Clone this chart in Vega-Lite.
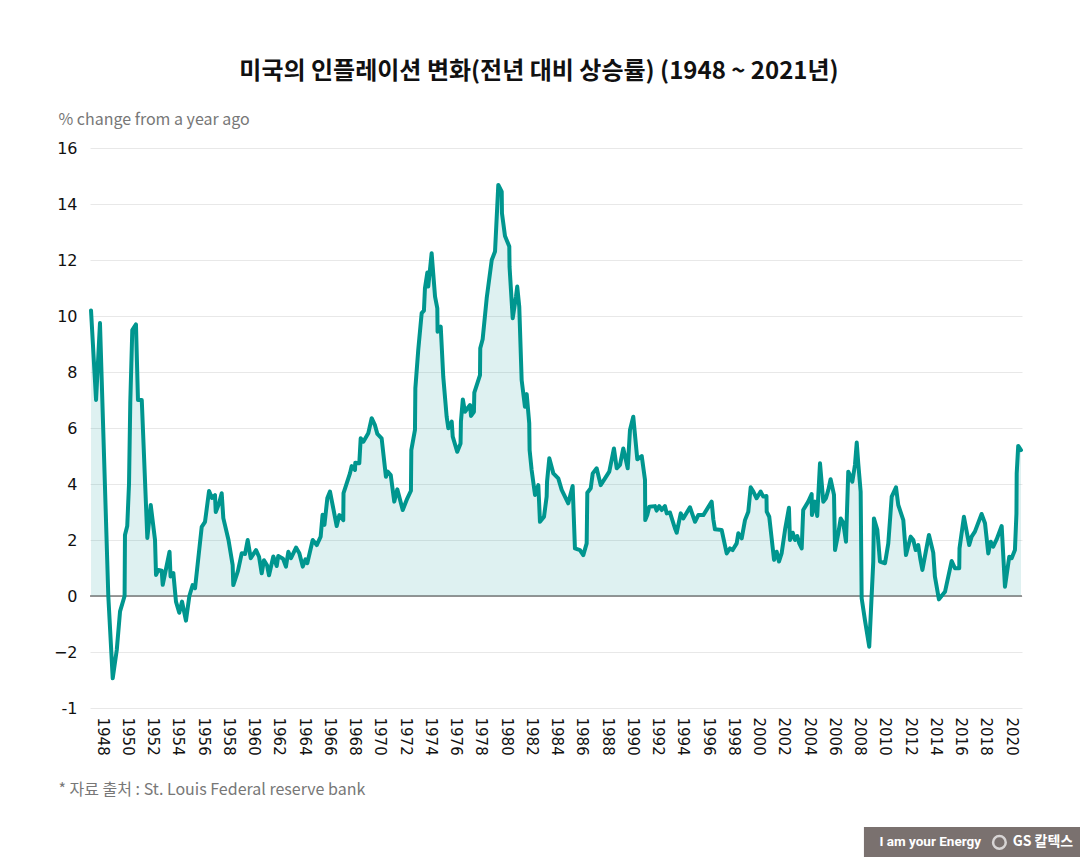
{
"$schema":"https://vega.github.io/schema/vega-lite/v6.json",
"width":932,"height":560,
"autosize":{"type":"none"},
"padding":{"left":90,"top":148,"right":58,"bottom":149},
"background":"white",
"config":{"view":{"stroke":null},"font":"DejaVu Sans",
 "axisX":{"values":[1948,1950,1952,1954,1956,1958,1960,1962,1964,1966,1968,1970,1972,1974,1976,1978,1980,1982,1984,1986,1988,1990,1992,1994,1996,1998,2000,2002,2004,2006,2008,2010,2012,2014,2016,2018,2020],
   "format":"d","labelAngle":90,"labelOffset":11,"labelFlush":false,"labelOverlap":false,"ticks":false,"domain":false,"grid":false,
   "labelFont":"DejaVu Sans","labelFontSize":15,"labelColor":"#111111","labelPadding":9,
   "titleX":-32,"titleY":86,"titleAlign":"left","titleAnchor":"start","titleBaseline":"alphabetic",
   "titleFont":"Noto Sans CJK KR","titleFontSize":16,"titleFontWeight":"normal","titleColor":"#777777"}},
"title":{"text":"미국의 인플레이션 변화(전년 대비 상승률) (1948 ~ 2021년)","font":"Noto Sans CJK KR","fontSize":24,"fontWeight":"bold","color":"#111111","anchor":"middle","dx":-17,"offset":8,"baseline":"alphabetic"},
"data":{"values":[
{"t":1948.00,"v":10.2},{"t":1948.40,"v":7.0},{"t":1948.71,"v":9.75},{"t":1949.37,"v":0.0},{"t":1949.72,"v":-2.94},{"t":1950.04,"v":-1.93},{"t":1950.30,"v":-0.55},{"t":1950.66,"v":0.0},{"t":1950.69,"v":2.18},{"t":1950.87,"v":2.5},
{"t":1951.01,"v":4.0},{"t":1951.11,"v":6.9},{"t":1951.27,"v":9.5},{"t":1951.56,"v":9.7},{"t":1951.72,"v":7.0},{"t":1952.02,"v":7.0},{"t":1952.46,"v":2.07},{"t":1952.73,"v":3.25},{"t":1953.07,"v":2.0},{"t":1953.15,"v":0.75},
{"t":1953.33,"v":0.93},{"t":1953.60,"v":0.9},{"t":1953.68,"v":0.4},{"t":1954.22,"v":1.58},{"t":1954.30,"v":0.7},{"t":1954.52,"v":0.82},{"t":1954.73,"v":-0.2},{"t":1954.99,"v":-0.6},{"t":1955.21,"v":-0.2},{"t":1955.52,"v":-0.88},
{"t":1955.79,"v":0.0},{"t":1956.05,"v":0.39},{"t":1956.24,"v":0.28},{"t":1956.77,"v":2.47},{"t":1957.03,"v":2.65},{"t":1957.35,"v":3.75},{"t":1957.58,"v":3.5},{"t":1957.82,"v":3.6},{"t":1957.88,"v":3.0},{"t":1958.14,"v":3.3},
{"t":1958.35,"v":3.67},{"t":1958.48,"v":2.78},{"t":1958.89,"v":2.0},{"t":1959.22,"v":1.1},{"t":1959.27,"v":0.39},{"t":1959.64,"v":0.9},{"t":1959.94,"v":1.53},{"t":1960.20,"v":1.5},{"t":1960.41,"v":2.0},{"t":1960.65,"v":1.35},
{"t":1961.07,"v":1.64},{"t":1961.31,"v":1.4},{"t":1961.52,"v":0.81},{"t":1961.70,"v":1.28},{"t":1961.94,"v":1.1},{"t":1962.10,"v":0.74},{"t":1962.44,"v":1.41},{"t":1962.71,"v":1.07},{"t":1962.83,"v":1.43},{"t":1963.21,"v":1.33},
{"t":1963.44,"v":1.05},{"t":1963.63,"v":1.58},{"t":1963.84,"v":1.35},{"t":1964.24,"v":1.73},{"t":1964.50,"v":1.53},{"t":1964.77,"v":1.05},{"t":1964.99,"v":1.31},{"t":1965.13,"v":1.17},{"t":1965.56,"v":2.0},{"t":1965.88,"v":1.82},
{"t":1966.19,"v":2.12},{"t":1966.34,"v":2.9},{"t":1966.49,"v":2.54},{"t":1966.72,"v":3.5},{"t":1966.93,"v":3.73},{"t":1967.46,"v":2.5},{"t":1967.67,"v":2.89},{"t":1967.98,"v":2.71},{"t":1968.00,"v":3.67},{"t":1968.51,"v":4.38},
{"t":1968.65,"v":4.64},{"t":1968.91,"v":4.5},{"t":1968.93,"v":4.76},{"t":1969.25,"v":4.74},{"t":1969.36,"v":5.63},{"t":1969.57,"v":5.51},{"t":1969.96,"v":5.81},{"t":1970.23,"v":6.35},{"t":1970.49,"v":6.1},{"t":1970.68,"v":5.79},
{"t":1971.02,"v":5.63},{"t":1971.36,"v":4.26},{"t":1971.50,"v":4.44},{"t":1971.74,"v":4.32},{"t":1972.02,"v":3.37},{"t":1972.26,"v":3.81},{"t":1972.69,"v":3.07},{"t":1973.00,"v":3.43},{"t":1973.34,"v":3.76},{"t":1973.37,"v":5.21},
{"t":1973.66,"v":5.93},{"t":1973.69,"v":7.42},{"t":1973.92,"v":8.79},{"t":1974.19,"v":10.1},{"t":1974.37,"v":10.19},{"t":1974.45,"v":10.99},{"t":1974.64,"v":11.55},{"t":1974.71,"v":11.05},{"t":1974.98,"v":12.24},{"t":1975.25,"v":10.69},
{"t":1975.43,"v":10.27},{"t":1975.45,"v":9.44},{"t":1975.70,"v":9.62},{"t":1975.90,"v":7.83},{"t":1976.17,"v":6.4},{"t":1976.30,"v":5.99},{"t":1976.57,"v":6.23},{"t":1976.65,"v":5.69},{"t":1977.01,"v":5.15},{"t":1977.27,"v":5.45},
{"t":1977.30,"v":6.23},{"t":1977.45,"v":7.02},{"t":1977.62,"v":6.58},{"t":1978.02,"v":6.82},{"t":1978.10,"v":6.43},{"t":1978.33,"v":6.58},{"t":1978.36,"v":7.26},{"t":1978.81,"v":7.89},{"t":1978.83,"v":8.85},{"t":1979.02,"v":9.17},
{"t":1979.34,"v":10.63},{"t":1979.74,"v":12.0},{"t":1980.00,"v":12.3},{"t":1980.26,"v":14.68},{"t":1980.53,"v":14.44},{"t":1980.55,"v":13.67},{"t":1980.79,"v":12.86},{"t":1981.13,"v":12.48},{"t":1981.15,"v":11.76},{"t":1981.40,"v":9.92},
{"t":1981.66,"v":10.69},{"t":1981.76,"v":11.05},{"t":1981.92,"v":10.33},{"t":1982.11,"v":7.71},{"t":1982.37,"v":6.76},{"t":1982.51,"v":7.21},{"t":1982.71,"v":6.17},{"t":1982.74,"v":5.21},{"t":1982.90,"v":4.5},{"t":1983.17,"v":3.61},
{"t":1983.43,"v":3.96},{"t":1983.56,"v":2.65},{"t":1983.88,"v":2.83},{"t":1984.09,"v":3.55},{"t":1984.12,"v":4.08},{"t":1984.30,"v":4.92},{"t":1984.62,"v":4.38},{"t":1985.01,"v":4.2},{"t":1985.28,"v":3.79},{"t":1985.80,"v":3.31},
{"t":1986.15,"v":3.93},{"t":1986.33,"v":1.7},{"t":1986.73,"v":1.64},{"t":1986.99,"v":1.46},{"t":1987.26,"v":1.88},{"t":1987.31,"v":3.69},{"t":1987.58,"v":3.85},{"t":1987.74,"v":4.38},{"t":1988.05,"v":4.56},{"t":1988.37,"v":3.96},
{"t":1989.05,"v":4.44},{"t":1989.42,"v":5.27},{"t":1989.64,"v":4.56},{"t":1989.90,"v":4.68},{"t":1990.16,"v":5.27},{"t":1990.51,"v":4.56},{"t":1990.69,"v":5.93},{"t":1990.95,"v":6.4},{"t":1991.27,"v":4.88},{"t":1991.62,"v":5.0},
{"t":1991.88,"v":4.14},{"t":1991.90,"v":2.71},{"t":1992.06,"v":2.89},{"t":1992.22,"v":3.19},{"t":1992.67,"v":3.21},{"t":1992.80,"v":3.05},{"t":1993.01,"v":3.21},{"t":1993.20,"v":3.07},{"t":1993.46,"v":3.21},{"t":1993.60,"v":2.95},
{"t":1993.86,"v":2.98},{"t":1994.25,"v":2.42},{"t":1994.39,"v":2.26},{"t":1994.71,"v":2.95},{"t":1994.91,"v":2.77},{"t":1995.44,"v":3.17},{"t":1995.84,"v":2.65},{"t":1996.10,"v":2.89},{"t":1996.50,"v":2.89},{"t":1997.16,"v":3.37},
{"t":1997.29,"v":2.74},{"t":1997.42,"v":2.38},{"t":1997.95,"v":2.36},{"t":1998.35,"v":1.52},{"t":1998.61,"v":1.7},{"t":1998.82,"v":1.64},{"t":1999.14,"v":1.88},{"t":1999.27,"v":2.24},{"t":1999.54,"v":2.06},{"t":1999.80,"v":2.71},
{"t":2000.06,"v":3.01},{"t":2000.25,"v":3.88},{"t":2000.46,"v":3.73},{"t":2000.72,"v":3.49},{"t":2001.04,"v":3.73},{"t":2001.25,"v":3.55},{"t":2001.50,"v":3.57},{"t":2001.52,"v":3.01},{"t":2001.72,"v":2.83},{"t":2002.10,"v":1.29},
{"t":2002.31,"v":1.58},{"t":2002.49,"v":1.23},{"t":2002.70,"v":1.52},{"t":2002.97,"v":2.36},{"t":2003.28,"v":3.15},{"t":2003.36,"v":2.0},{"t":2003.58,"v":2.26},{"t":2003.76,"v":2.0},{"t":2003.94,"v":2.14},{"t":2004.10,"v":1.88},
{"t":2004.29,"v":1.7},{"t":2004.41,"v":3.07},{"t":2004.81,"v":3.37},{"t":2005.08,"v":3.64},{"t":2005.10,"v":2.89},{"t":2005.34,"v":3.37},{"t":2005.52,"v":2.86},{"t":2005.74,"v":4.74},{"t":2006.00,"v":3.37},{"t":2006.21,"v":3.49},
{"t":2006.40,"v":3.79},{"t":2006.58,"v":4.17},{"t":2006.85,"v":3.61},{"t":2006.93,"v":1.64},{"t":2007.19,"v":2.24},{"t":2007.38,"v":2.77},{"t":2007.58,"v":2.62},{"t":2007.80,"v":1.94},{"t":2007.98,"v":4.44},{"t":2008.11,"v":4.32},
{"t":2008.30,"v":4.08},{"t":2008.51,"v":4.68},{"t":2008.65,"v":5.48},{"t":2008.77,"v":4.74},{"t":2008.96,"v":3.73},{"t":2009.04,"v":-0.08},{"t":2009.30,"v":-0.86},{"t":2009.64,"v":-1.81},{"t":2009.96,"v":1.23},{"t":2010.01,"v":2.77},
{"t":2010.28,"v":2.36},{"t":2010.49,"v":1.23},{"t":2010.89,"v":1.17},{"t":2011.15,"v":1.88},{"t":2011.42,"v":3.55},{"t":2011.76,"v":3.88},{"t":2011.94,"v":3.25},{"t":2012.34,"v":2.71},{"t":2012.55,"v":1.46},{"t":2012.92,"v":2.12},
{"t":2013.13,"v":2.0},{"t":2013.32,"v":1.64},{"t":2013.52,"v":1.82},{"t":2013.70,"v":1.29},{"t":2013.85,"v":0.93},{"t":2014.37,"v":2.18},{"t":2014.71,"v":1.55},{"t":2014.84,"v":0.7},{"t":2015.16,"v":-0.12},{"t":2015.64,"v":0.15},
{"t":2016.17,"v":1.25},{"t":2016.43,"v":0.99},{"t":2016.77,"v":0.99},{"t":2016.79,"v":1.7},{"t":2017.14,"v":2.83},{"t":2017.56,"v":1.82},{"t":2017.75,"v":2.12},{"t":2018.01,"v":2.3},{"t":2018.54,"v":2.93},{"t":2018.81,"v":2.6},
{"t":2019.07,"v":1.52},{"t":2019.26,"v":1.94},{"t":2019.46,"v":1.76},{"t":2019.73,"v":2.02},{"t":2020.13,"v":2.5},{"t":2020.39,"v":0.33},{"t":2020.73,"v":1.4},{"t":2020.92,"v":1.35},{"t":2021.18,"v":1.64},{"t":2021.30,"v":2.95},
{"t":2021.32,"v":4.38},{"t":2021.44,"v":5.36},{"t":2021.66,"v":5.21}
]},
"layer":[
{"mark":{"type":"area","color":"#00968f","fillOpacity":0.13},
 "encoding":{
  "x":{"field":"t","type":"quantitative","scale":{"domain":[1947.92,2021.74],"nice":false,"zero":false},"axis":{"title":"* 자료 출처 : St. Louis Federal reserve bank"}},
  "y":{"field":"v","type":"quantitative","scale":{"domain":[0,16],"range":[448,0],"clamp":true,"nice":false,"zero":false},"axis":null}}},
{"layer":[
 {"data":{"values":[{}]},"mark":{"type":"rule","color":"#3a3a3a","strokeWidth":1},"encoding":{"y":{"datum":0}}},
 {"mark":{"type":"line","color":"#00968f","strokeWidth":4,"strokeJoin":"round","strokeCap":"round"},
  "encoding":{
   "x":{"field":"t","type":"quantitative","scale":{"domain":[1947.92,2021.74],"nice":false,"zero":false},"axis":{"title":"* 자료 출처 : St. Louis Federal reserve bank"}},
   "y":{"field":"v","type":"quantitative","scale":{"domain":[-4,16],"nice":false,"zero":false},
     "axis":{"values":[-4,-2,0,2,4,6,8,10,12,14,16],"labelExpr":"datum.value == -4 ? '-1' : datum.label",
       "grid":true,"gridColor":"#e8e8e8","gridWidth":1,"ticks":false,"domain":false,
       "labelFont":"DejaVu Sans","labelFontSize":16,"labelColor":"#111111","labelPadding":13,
       "title":"% change from a year ago","titleAngle":0,"titleX":-32,"titleY":-24,"titleAlign":"left","titleAnchor":"start","titleBaseline":"alphabetic",
       "titleFont":"Noto Sans CJK KR","titleFontSize":16,"titleFontWeight":"normal","titleColor":"#777777"}}}},
 {"data":{"values":[{}]},"mark":{"type":"rect","color":"#7a716f"},
  "encoding":{"x":{"datum":2009.22},"x2":{"datum":2026.6},"y":{"datum":-8.25},"y2":{"datum":-9.8}}},
 {"data":{"values":[{}]},"mark":{"type":"text","text":"I am your Energy","color":"white","font":"Roboto","fontSize":13.5,"fontWeight":"bold","align":"left","baseline":"middle"},
  "encoding":{"x":{"datum":2010.45},"y":{"datum":-8.8}}},
 {"data":{"values":[{}]},"mark":{"type":"point","shape":"circle","filled":false,"stroke":"white","strokeWidth":2.5,"size":160},
  "encoding":{"x":{"datum":2019.95},"y":{"datum":-8.8}}},
 {"data":{"values":[{}]},"mark":{"type":"text","text":"GS 칼텍스","color":"white","font":"Noto Sans CJK KR","fontSize":14,"fontWeight":"bold","align":"left","baseline":"middle"},
  "encoding":{"x":{"datum":2021.0},"y":{"datum":-8.8}}}
]}
],
"resolve":{"scale":{"y":"independent"}}
}
